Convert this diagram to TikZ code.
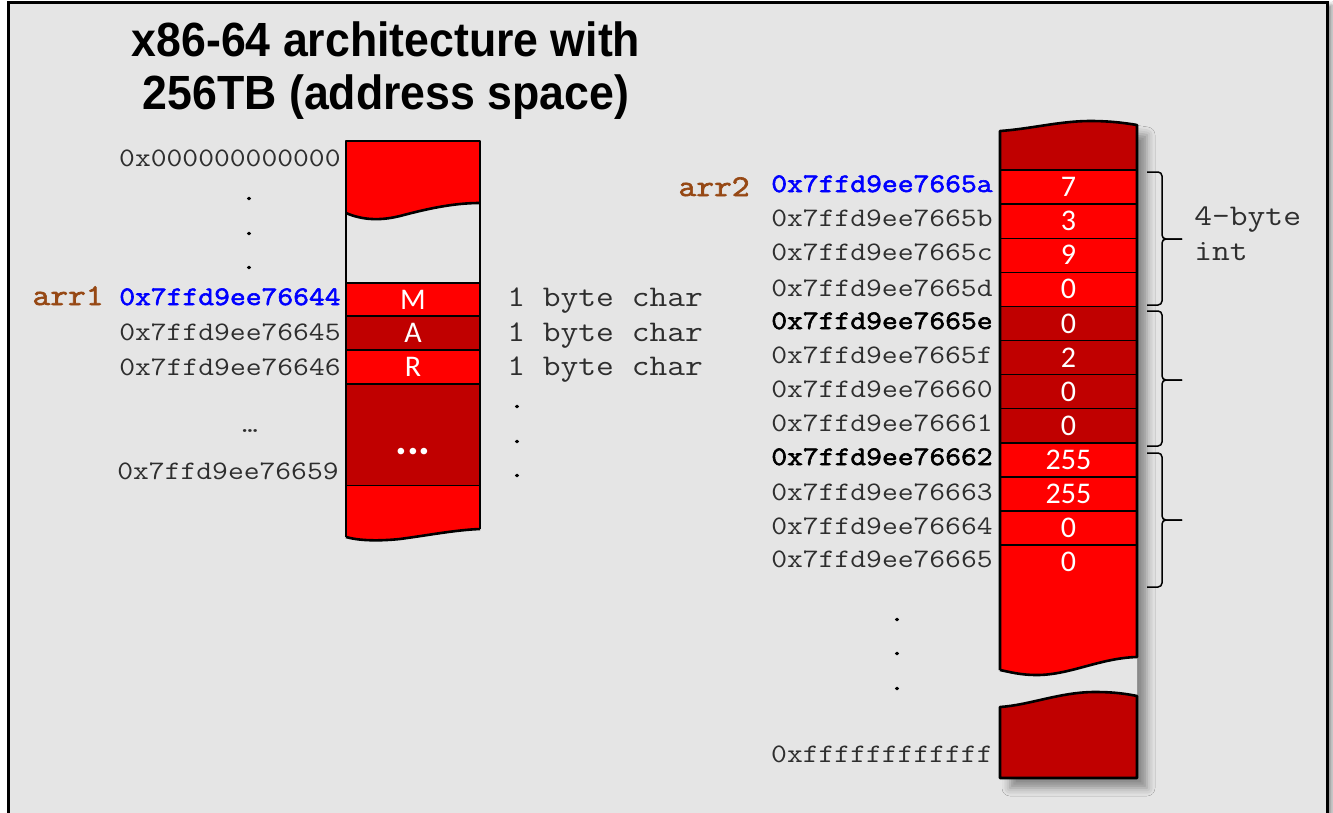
\documentclass[tikz,border=0pt]{standalone}
\usepackage{fontspec}
\setmainfont{Liberation Sans}
\newfontfamily\titlefont[FakeStretch=0.93]{Liberation Sans}
\newfontfamily\monofont[FakeStretch=1.15]{Latin Modern Mono}
\newfontfamily\monoboldfont[FakeStretch=1.15, FakeBold=2.2]{Latin Modern Mono}
\newfontfamily\cellfont{Carlito}
\usetikzlibrary{shadows.blur}

\definecolor{memred}{HTML}{FF0000}
\definecolor{memdark}{HTML}{C00000}
\definecolor{panel}{HTML}{E5E5E5}
\definecolor{addrgray}{HTML}{2E2E2E}
\definecolor{ptrbrown}{RGB}{150,72,20}
\definecolor{ptrblue}{HTML}{0000FF}

\newcommand{\addrsize}{\fontsize{13.35pt}{15pt}\selectfont}
\newcommand{\notesize}{\fontsize{15pt}{17pt}\selectfont}

\tikzset{
  addr/.style={anchor=base east, inner sep=0pt, font=\monofont\addrsize, text=addrgray},
  addrhead/.style={addr, font=\monoboldfont\addrsize, text=ptrblue},
  addrbold/.style={addr, font=\monoboldfont\addrsize, text=black},
  varname/.style={addr, font=\monoboldfont\notesize, text=ptrbrown},
  note/.style={anchor=base west, inner sep=0pt, font=\monofont\notesize, text=addrgray},
  vdot/.style={anchor=base, inner sep=0pt, font=\monoboldfont\addrsize, text=black},
  bytecell/.style={draw=black, line width=0.7pt, inner sep=0pt, outer sep=0pt,
    text=white, font=\cellfont\fontsize{15pt}{17pt}\selectfont},
  lcell/.style={bytecell, minimum width=67pt},
  rcell/.style={bytecell, minimum width=68.5pt, minimum height=17.05pt},
  blockedge/.style={line width=1.3pt, line join=round},
  brace/.style={line width=0.75pt, rounded corners=2pt},
  titletext/.style={anchor=base, inner sep=0pt, font=\titlefont\bfseries\fontsize{24pt}{28pt}\selectfont},
}

\begin{document}
\begin{tikzpicture}[x=0.5pt, y=-0.5pt]
\useasboundingbox (0,0) rectangle (1333,813);
\fill[white] (0,0) rectangle (1333,813);

% panel with its frame
\path[fill=panel, blur shadow={shadow xshift=2.5pt, shadow yshift=-1pt,
  shadow blur radius=2pt, shadow opacity=45}] (8,3) rectangle (1327,840);
\draw[line width=1.5pt] (8,840) -- (8,3) -- (1327,3) -- (1327,840);

% heading
\node[titletext] (title1) at (386,57) {x86-64 architecture with};
\node[titletext] (title2) at (386,110) {256TB (address space)};

% ---------------- char array block ----------------
\fill[memred] (346,141) -- (480,141) -- (480,203)
  .. controls (455,203) and (430,208) .. (400,216)
  .. controls (380,221) and (362,220) .. (346,213) -- cycle;
\draw[blockedge] (346,213) .. controls (362,220) and (380,221) .. (400,216)
  .. controls (430,208) and (455,203) .. (480,203);

\node[lcell, fill=memred,  minimum height=16.5pt] (cm) at (413,299.5) {M};
\node[lcell, fill=memdark, minimum height=17pt]   (ca) at (413,333) {A};
\node[lcell, fill=memred,  minimum height=17pt]   (cr) at (413,367) {R};
\node[lcell, fill=memdark, minimum height=51pt]   (cgap) at (413,435) {};
\node[anchor=base, inner sep=0pt, text=white,
  font=\cellfont\bfseries\fontsize{22pt}{24pt}\selectfont] (cdots) at (413,454) {...};

\fill[memred] (346,486) -- (480,486) -- (480,529)
  .. controls (455,530) and (430,535) .. (400,539)
  .. controls (380,541) and (360,541) .. (346,537) -- cycle;
\draw[blockedge] (346,537) .. controls (360,541) and (380,541) .. (400,539)
  .. controls (430,535) and (455,530) .. (480,529);
\draw[blockedge] (346,537) -- (346,141) -- (480,141) -- (480,529);

% addresses of the char array
\node[addr] (a0) at (341,166) {0x000000000000};
\node[vdot] (ld1) at (249,200) {.};
\node[vdot] (ld2) at (249,235) {.};
\node[vdot] (ld3) at (249,269) {.};
\node[varname] (arr1) at (104,305) {arr1};
\node[addrhead] (a44) at (341,305) {0x7ffd9ee76644};
\node[addr] (a45) at (341,340.5) {0x7ffd9ee76645};
\node[addr] (a46) at (341,375) {0x7ffd9ee76646};
\node[anchor=base, inner sep=0pt, font=\monofont\addrsize, text=addrgray] (lell) at (250,432) {…};
\node[addr] (a59) at (339,479) {0x7ffd9ee76659};

\node[note] (n1) at (507,306.5) {1 byte char};
\node[note] (n2) at (507,341.5) {1 byte char};
\node[note] (n3) at (507,375) {1 byte char};
\node[vdot] (nd1) at (517,408) {.};
\node[vdot] (nd2) at (517,443) {.};
\node[vdot] (nd3) at (517,477) {.};

% ---------------- int array block ----------------
\path[fill=panel, blur shadow={shadow xshift=5pt, shadow yshift=-5pt,
  shadow blur radius=4pt, shadow opacity=40}]
  (1000,131) .. controls (1030,129) and (1060,121) .. (1090,121)
  .. controls (1110,121) and (1125,123) .. (1137,125) -- (1137,778) -- (1000,778) -- cycle;

\fill[memdark] (1000,131) .. controls (1030,129) and (1060,121) .. (1090,121)
  .. controls (1110,121) and (1125,123) .. (1137,125) -- (1137,170) -- (1000,170) -- cycle;

\foreach \v/\c [count=\i from 0] in
  {7/memred, 3/memred, 9/memred, 0/memred,
   0/memdark, 2/memdark, 0/memdark, 0/memdark,
   255/memred, 255/memred, 0/memred, 0/memred}
  \node[rcell, fill=\c] (r\i) at (1068.5,{187.05+34.1*\i}) {\v};

\fill[memred] (1000,579.2) -- (1137,579.2) -- (1137,657)
  .. controls (1100,658) and (1070,675) .. (1037,675)
  .. controls (1020,675) and (1010,672) .. (1000,670) -- cycle;
\fill[memdark] (1000,707) .. controls (1030,705) and (1060,692) .. (1095,692)
  .. controls (1115,692) and (1127,694) .. (1137,696) -- (1137,778) -- (1000,778) -- cycle;

\draw[blockedge] (1000,670) -- (1000,131)
  .. controls (1030,129) and (1060,121) .. (1090,121)
  .. controls (1110,121) and (1125,123) .. (1137,125) -- (1137,657)
  .. controls (1100,658) and (1070,675) .. (1037,675)
  .. controls (1020,675) and (1010,672) .. (1000,670);
\draw[blockedge] (1000,707) .. controls (1030,705) and (1060,692) .. (1095,692)
  .. controls (1115,692) and (1127,694) .. (1137,696) -- (1137,778) -- (1000,778) -- cycle;

% addresses of the int array
\node[varname] (arr2) at (750,196) {arr2};
\node[addrhead] (b0)  at (993,192)   {0x7ffd9ee7665a};
\node[addr]     (b1)  at (993,226.1) {0x7ffd9ee7665b};
\node[addr]     (b2)  at (993,260.2) {0x7ffd9ee7665c};
\node[addr]     (b3)  at (993,296)   {0x7ffd9ee7665d};
\node[addrbold] (b4)  at (993,329)   {0x7ffd9ee7665e};
\node[addr]     (b5)  at (993,363.5) {0x7ffd9ee7665f};
\node[addr]     (b6)  at (993,397.5) {0x7ffd9ee76660};
\node[addr]     (b7)  at (993,431.5) {0x7ffd9ee76661};
\node[addrbold] (b8)  at (993,465)   {0x7ffd9ee76662};
\node[addr]     (b9)  at (993,500)   {0x7ffd9ee76663};
\node[addr]     (b10) at (993,534)   {0x7ffd9ee76664};
\node[addr]     (b11) at (993,567)   {0x7ffd9ee76665};
\node[vdot] (rd1) at (897,621) {.};
\node[vdot] (rd2) at (897,655) {.};
\node[vdot] (rd3) at (897,690) {.};
\node[addr] (bend) at (993,762) {0xffffffffffff};

% braces grouping four bytes into one int
\foreach \t/\m/\b in {172/239/305, 311/380/446, 453/520/587} {
  \draw[brace] (1147,\t) -- (1162,\t) -- (1162,\m) -- (1182,\m);
  \draw[brace] (1182,\m) -- (1162,\m) -- (1162,\b) -- (1147,\b);
}
\node[note] (int1) at (1194,225) {4-byte};
\node[note] (int2) at (1194,260) {int};

\end{tikzpicture}
\end{document}
